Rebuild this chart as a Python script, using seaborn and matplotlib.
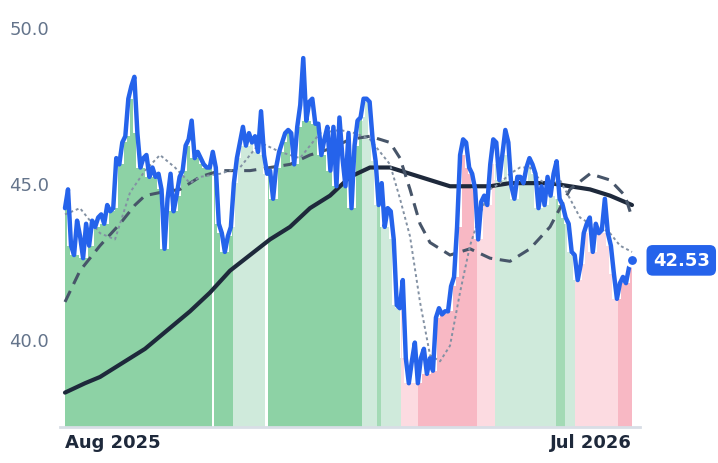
import numpy as np
import pandas as pd
import matplotlib
matplotlib.use("Agg")
import matplotlib.pyplot as plt
import seaborn as sns

sns.set_theme(style="white")
plt.rcParams['font.family'] = ['DejaVu Sans']

price = [44.2,44.8,43.0,42.7,43.8,43.3,42.6,43.7,43.0,43.8,43.6,43.9,44.0,43.7,44.3,44.1,44.2,45.8,45.6,46.3,46.5,47.7,48.1,48.4,46.6,45.5,45.8,45.9,45.2,45.5,45.2,45.3,44.8,42.9,44.5,45.3,44.1,44.6,45.2,45.4,46.2,46.4,47.0,45.8,46.0,45.8,45.6,45.5,45.5,46.0,45.5,43.7,43.4,42.8,43.3,43.6,45.0,45.8,46.3,46.8,46.2,46.6,46.3,46.5,46.0,47.3,45.9,45.3,45.4,44.5,45.5,46.0,46.3,46.6,46.7,46.6,45.6,46.8,47.5,49.0,47.0,47.6,47.7,46.9,46.9,45.9,46.4,46.8,45.4,46.8,44.9,47.1,45.8,44.9,46.6,44.2,46.2,47.0,47.1,47.7,47.7,47.6,46.4,45.7,44.3,45.0,43.6,44.2,44.1,43.2,41.1,41.0,41.9,39.4,38.6,39.3,39.9,38.6,39.4,39.7,38.9,39.4,39.0,40.7,41.0,40.8,40.9,40.9,41.7,42.0,43.6,45.9,46.4,46.3,45.5,45.3,44.8,43.2,44.4,44.6,44.3,45.6,46.4,46.3,45.1,45.9,46.7,46.3,44.9,44.5,45.2,45.2,45.0,45.5,45.8,45.6,45.3,44.2,44.9,44.3,45.2,44.6,45.3,45.7,44.5,44.3,43.9,43.7,42.8,42.7,41.9,42.4,43.4,43.7,43.9,42.8,43.7,43.4,43.5,44.5,43.4,43.0,42.1,41.3,41.8,42.0,41.8,42.3,42.53]

# moving averages: position along the year (0..567 scale) and value
ma200_pos = [0,20,35,50,65,80,95,110,125,145,165,185,205,225,245,265,285,305,325,345,365,385,405,425,445,465,485,505,525,545,567]
ma200 = [38.3,38.6,38.8,39.1,39.4,39.7,40.1,40.5,40.9,41.5,42.2,42.7,43.2,43.6,44.2,44.6,45.2,45.5,45.5,45.3,45.1,44.9,44.9,44.9,45.0,45.0,45.0,44.9,44.8,44.6,44.3]
ma50_pos = [0,15,35,55,70,80,95,115,135,155,185,205,225,245,265,285,305,325,335,345,355,365,375,385,395,405,425,445,465,485,505,525,545,560,567]
ma50 = [41.2,42.2,43.0,43.7,44.3,44.6,44.7,44.8,45.2,45.4,45.4,45.5,45.6,45.9,46.1,46.4,46.5,46.3,45.8,44.8,43.7,43.1,42.9,42.7,42.8,42.9,42.6,42.5,42.9,43.6,44.8,45.3,45.1,44.6,43.9]
ma20_pos = [0,15,35,50,65,80,95,110,125,135,155,175,195,215,235,255,275,290,305,325,335,345,355,365,375,385,395,405,415,425,435,445,455,465,475,485,495,505,515,525,535,545,555,567]
ma20 = [44.0,44.2,43.4,43.2,44.7,45.4,45.9,45.5,45.0,45.2,45.3,45.5,46.3,46.0,45.8,46.6,46.7,46.6,46.4,45.6,44.5,43.3,41.2,39.5,39.3,39.8,41.5,43.0,44.0,44.8,45.0,45.3,45.5,45.5,45.1,44.9,45.1,44.5,43.9,43.7,43.6,43.4,43.0,42.8]

# regimes: start, end (0..567 scale), kind
reg_start = [0,149,168,203,297,312,316,336,353,412,430,491,500,510,553]
reg_end   = [147,168,200,297,312,316,336,353,412,430,491,500,510,553,567]
reg_kind  = ["sg","sg","lg","sg","lg","mg","lg","lr","r","lr","lg","mg","lg","lr","r"]
colors = {"sg":"#8dd2a5","lg":"#cfeadb","mg":"#a3dab5","r":"#f8b8c4","lr":"#fcdbe1"}

N = len(price)
xs = np.arange(N)
scale = (N - 1) / 567.0
fill_top = pd.Series(price).rolling(3, center=True, min_periods=1).min().values

fig = plt.figure(figsize=(7.18, 4.64), dpi=100)
ax = fig.add_axes([60/718, 1-428/464, 580/718, 408/464])
ax.set_xlim(-5*scale, (N-1) + 8*scale)
ax.set_ylim(37.2, 50.25)

for s, e, k in zip(reg_start, reg_end, reg_kind):
    a, b = s*scale, e*scale
    m = (xs >= np.floor(a)) & (xs <= np.ceil(b))
    xx = np.clip(xs[m], a, b)
    ax.fill_between(xx, 37.2, fill_top[m], step="mid", color=colors[k], lw=0)

ax.plot(np.array(ma200_pos)*scale, ma200, color="#1e293b", lw=3)
ax.plot(np.array(ma50_pos)*scale, ma50, color="#475569", lw=2.2, ls=(0,(4,2.5)))
ax.plot(np.array(ma20_pos)*scale, ma20, color="#8391a3", lw=1.4, ls=(0,(1.5,1.5)))
sns.lineplot(x=xs, y=price, ax=ax, color="#2563eb", lw=3.2)
ax.scatter([xs[-1]], [price[-1]], s=70, color="#2563eb", edgecolor="white", linewidth=2, zorder=5, clip_on=False)
ax.annotate(f"{price[-1]:.2f}", xy=(xs[-1], price[-1]), xytext=(15, 0), textcoords="offset points",
            color="white", fontsize=13, fontweight="bold", va="center", ha="left",
            bbox=dict(boxstyle="round,pad=0.35", fc="#2563eb", ec="none"), annotation_clip=False)

ax.set_yticks([40, 45, 50])
ax.set_yticklabels(["40.0", "45.0", "50.0"], color="#64748b", fontsize=13)
ax.tick_params(axis="y", length=0, pad=8)
ax.set_xticks([0, N-1])
lbls = ax.set_xticklabels(["Aug 2025", "Jul 2026"], fontsize=13, fontweight="bold", color="#1e293b")
lbls[0].set_ha("left"); lbls[1].set_ha("right")
ax.tick_params(axis="x", length=0, pad=4)
for s in ["top", "right", "left"]:
    ax.spines[s].set_visible(False)
ax.spines["bottom"].set_color("#d8dee6")
ax.spines["bottom"].set_linewidth(2)
fig.savefig("out.png", dpi=100)
